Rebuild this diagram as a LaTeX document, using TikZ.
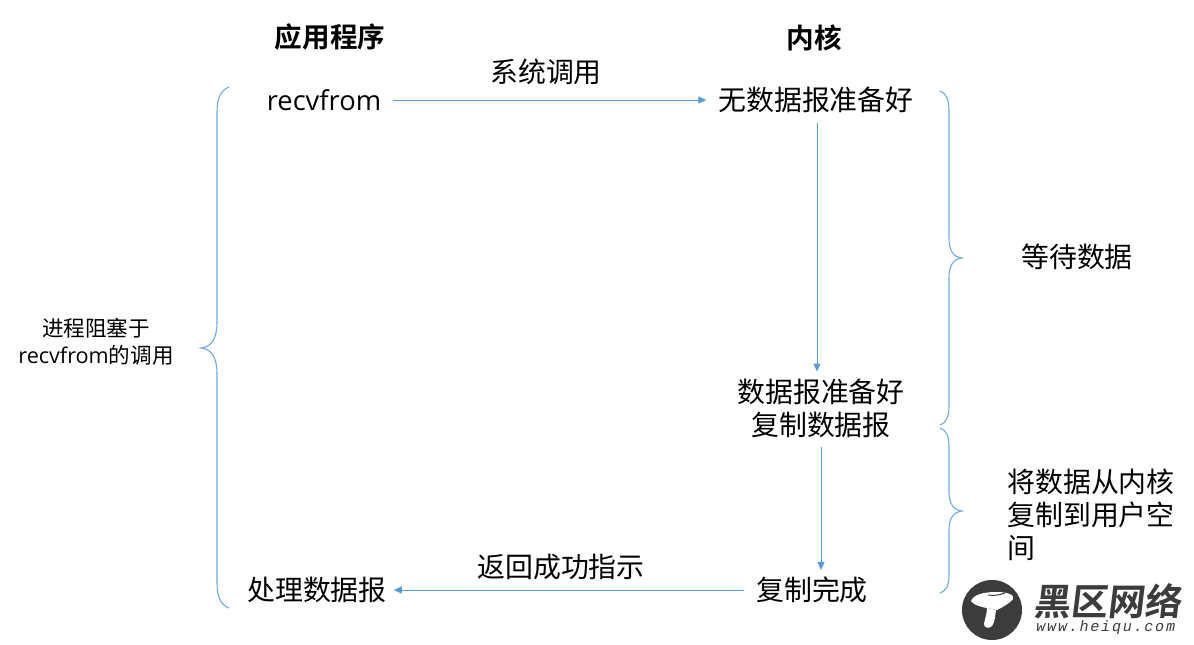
\documentclass[tikz,border=0pt]{standalone}
\usepackage{fontspec}
\usetikzlibrary{arrows.meta}
\setmainfont{Open Sans}
\newfontfamily\cjk{Noto Sans CJK SC}
\newfontfamily\cjkb{Noto Sans CJK SC Bold}
\newfontfamily\logofont[FakeSlant=0.12]{Noto Sans CJK SC Bold}
\newfontfamily\logolat[FakeSlant=0.2,LetterSpace=12]{Liberation Mono}
\definecolor{lineblue}{HTML}{5B9BD5}
\definecolor{logodark}{HTML}{3C3C3C}
\tikzset{
  lab/.style={inner sep=0pt,outer sep=0pt,font=\fontsize{27.9}{33}\selectfont\cjk,text=black,align=center},
  tnode/.style={lab,outer xsep=12pt,outer ysep=7pt},
  head/.style={lab,font=\fontsize{27.6}{33}\selectfont\cjkb},
  small/.style={lab,font=\fontsize{21.6}{26.5}\selectfont\cjk},
  arrowline/.style={draw=lineblue,line width=1pt,-{Triangle[length=8pt,width=7pt]}},
  bracefill/.style={draw=lineblue!85,line width=1.1pt,line cap=round,rounded corners=0pt}
}
\begin{document}
\begin{tikzpicture}[x=1pt,y=-1pt]
\useasboundingbox (0,0) rectangle (1194,645);
\fill[white] (0,0) rectangle (1194,645);
% titles
\node[head] (appT) at (330,37) {应用程序};
\node[head] (kerT) at (814,38) {内核};
% process nodes
\node[tnode,font=\fontsize{27.3}{33}\selectfont] (recv) at (324,100) {recvfrom};
\node[tnode] (nodata) at (816,100) {无数据报准备好};
\node[tnode] (ready) at (821,408) {数据报准备好\\复制数据报};
\node[tnode] (done) at (812,590) {复制完成};
\node[tnode] (proc) at (317,590) {处理数据报};
% connector labels
\node[lab] (syscall) at (546,72) {系统调用};
\node[lab] (ret) at (561,567) {返回成功指示};
% side labels
\node[lab] (wait) at (1077,257) {等待数据};
\node[lab,align=left] (copy) at (1091,515) {将数据从内核\\复制到用户空\\间};
\node[small] (block) at (96,342) {进程阻塞于\\{\fontspec{Open Sans}recvfrom}的调用};
% connectors
\draw[arrowline] (recv.east) -- (nodata.west);
\draw[arrowline,shorten <=3pt] ([xshift=1pt]nodata.south) -- ([xshift=-4pt]ready.north);
\draw[arrowline,shorten <=3pt] (ready.south) -- ([xshift=9pt]done.north);
\draw[arrowline,shorten >=-5pt] (done.west) -- (proc.east);
% braces
\draw[bracefill] (229,87) .. controls (221,90) and (217,98) .. (217,112)
  -- (217,322) .. controls (217,338) and (212,347) .. (201,348)
  .. controls (212,349) and (217,358) .. (217,374)
  -- (217,583) .. controls (217,597) and (221,605) .. (229,608);
\draw[bracefill] (940,91) .. controls (946,93) and (949,100) .. (949,110)
  -- (949,238) .. controls (949,250) and (953,257) .. (962,258)
  .. controls (953,259) and (949,266) .. (949,278)
  -- (949,406) .. controls (949,417) and (946,423) .. (940,425);
\draw[bracefill] (940,428) .. controls (946,430) and (949,436) .. (949,446)
  -- (949,492) .. controls (949,503) and (953,510) .. (962,511)
  .. controls (953,512) and (949,519) .. (949,530)
  -- (949,575) .. controls (949,586) and (946,591) .. (940,593);
% logo
\fill[logodark] (992,610) circle (30);
\fill[white] (971,601) .. controls (973,595) and (983,592) .. (996,592)
  .. controls (1008,592) and (1015,595) .. (1013,599)
  .. controls (1010,603) and (1003,607) .. (997,610)
  .. controls (988,608) and (975,607) .. (971,601) -- cycle;
\fill[white] (987,608) -- (996,610) .. controls (995,616) and (995,622) .. (992,626)
  .. controls (989,629) and (984,628) .. (984,624) .. controls (985,618) and (987,614) .. (987,608) -- cycle;
\draw[logodark,line width=1pt] (988,595) .. controls (994,596) and (1000,595) .. (1005,593);
\node[inner sep=0pt,text=logodark,font=\fontsize{37}{37}\selectfont\logofont] (logoA) at (1107,601) {黑区网络};
\node[inner sep=0pt,text=logodark,font=\fontsize{15}{15}\selectfont\logolat] (logoB) at (1105,628) {www.heiqu.com};
\end{tikzpicture}
\end{document}
